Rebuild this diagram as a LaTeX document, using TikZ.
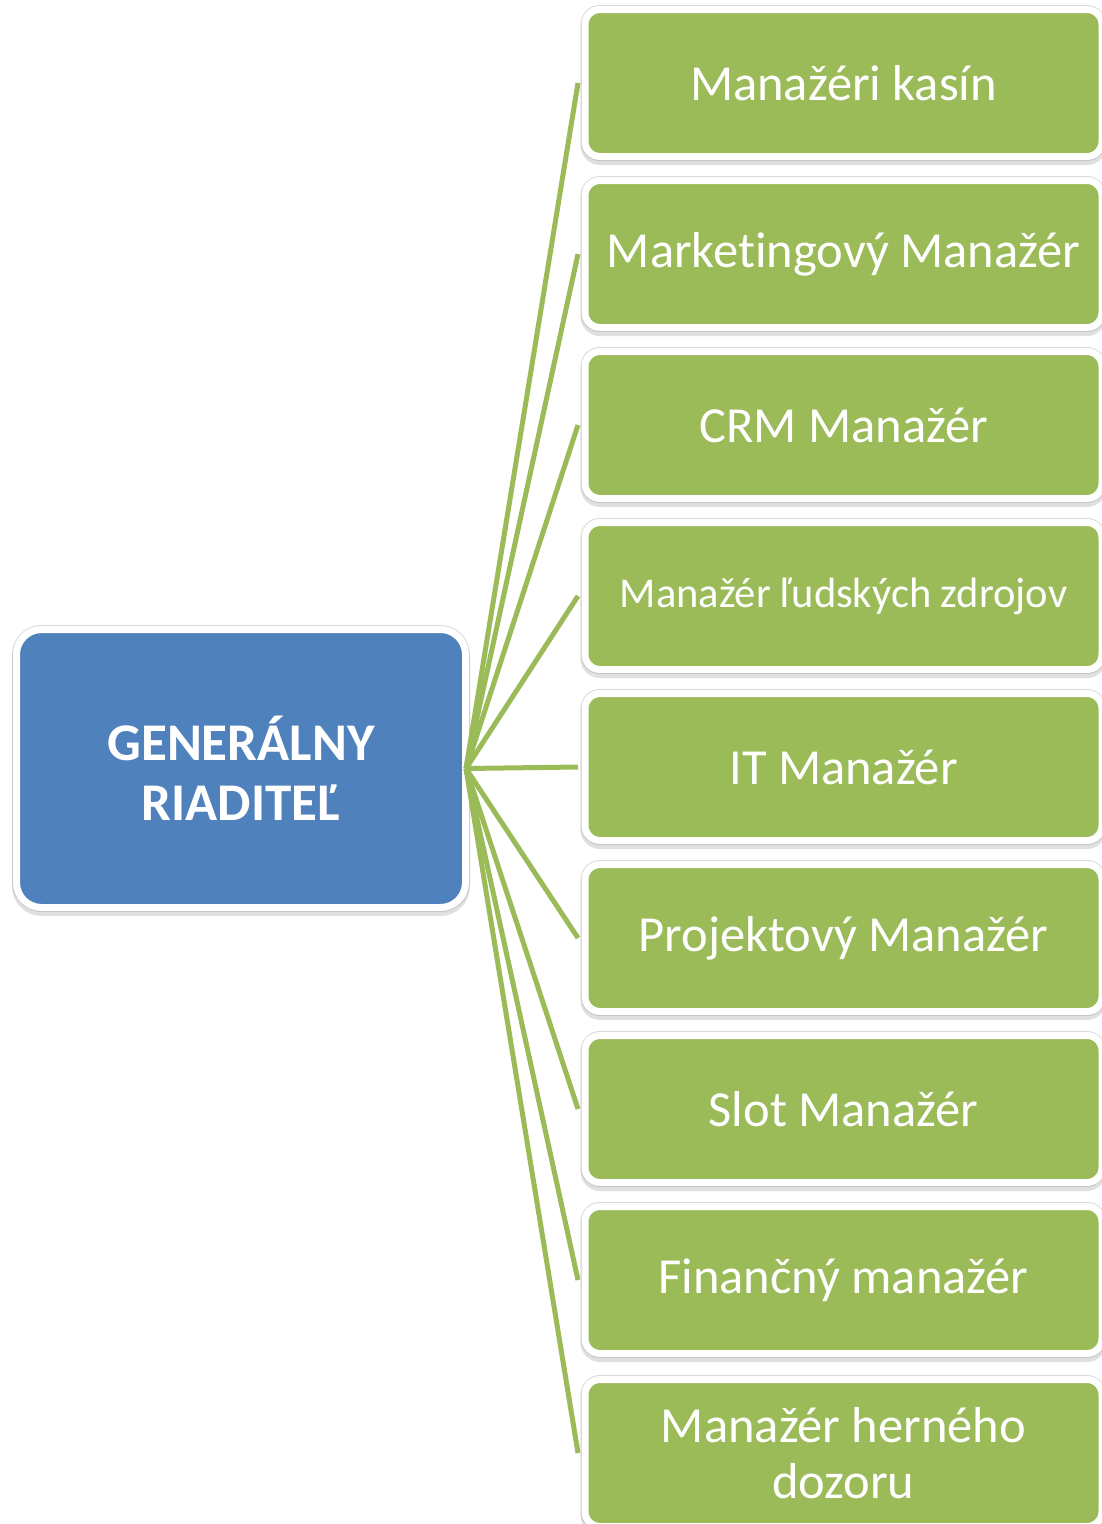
\documentclass[tikz,border=0pt]{standalone}
\usepackage{fontspec}
\setmainfont[Ligatures={NoCommon}]{Carlito}
\definecolor{bossblue}{HTML}{4F81BD}
\definecolor{leafgreen}{HTML}{9BBB59}
\pgfdeclarelayer{bg}
\pgfsetlayers{bg,main}
\begin{document}
\begin{tikzpicture}[x=1pt,y=-1pt,
  framed/.style={draw=white, line width=7pt, align=center, text=white, inner sep=0pt,
    preaction={draw=black!14, line width=9pt},
    preaction={draw=black!35, fill=black!35, line width=9pt, opacity=0.35, transform canvas={yshift=-4pt}}},
  leaf/.style={framed, fill=leafgreen, rounded corners=15pt, minimum width=517pt, minimum height=147pt, font=\fontsize{50.5}{56}\selectfont},
  boss/.style={framed, fill=bossblue, rounded corners=25pt, minimum width=449pt, minimum height=278pt, font=\bfseries\fontsize{53}{60}\selectfont},
  link/.style={draw=leafgreen, line width=5pt}]
\useasboundingbox (0,0) rectangle (1101,1524);
\begin{pgfonlayer}{bg}
\node[boss] (ceo) at (241,768.5) {GENERÁLNY\\RIADITEĽ};
\end{pgfonlayer}
\coordinate (hub) at ([xshift=-3pt]ceo.east);
\node[leaf] (m1) at (843.5,83) {Manažéri kasín};
\node[leaf] (m2) at (843.5,254) {Marketingový Manažér};
\node[leaf] (m3) at (843.5,425) {CRM Manažér};
\node[leaf, font=\fontsize{42.5}{50}\selectfont] (m4) at (843.5,596) {Manažér ľudských zdrojov};
\node[leaf] (m5) at (843.5,767) {IT Manažér};
\node[leaf] (m6) at (843.5,938) {Projektový Manažér};
\node[leaf] (m7) at (843.5,1109) {Slot Manažér};
\node[leaf] (m8) at (843.5,1280) {Finančný manažér};
\node[leaf] (m9) at (843.5,1453) {Manažér herného\\dozoru};
\foreach \n in {m1,m2,m3,m4,m5,m6,m7,m8,m9}
  \draw[link] (hub) -- ([xshift=-3.5pt]\n.west);
\end{tikzpicture}
\end{document}
